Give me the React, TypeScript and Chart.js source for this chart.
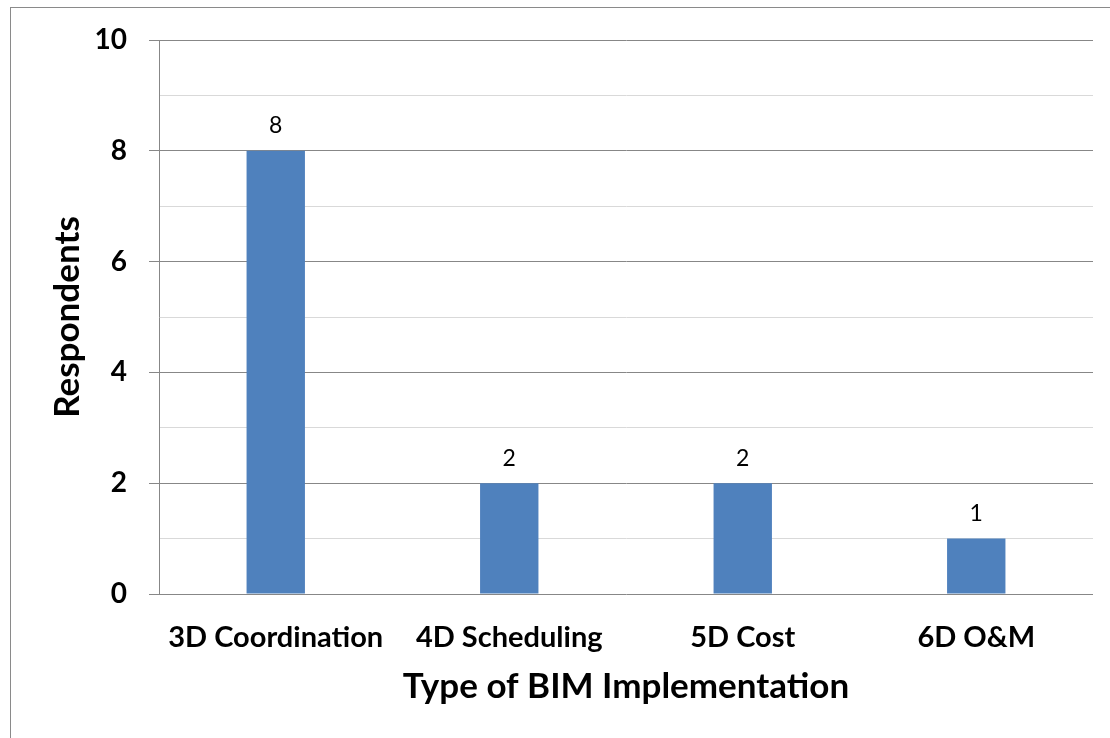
import React, { useEffect, useRef } from "react";
import { Chart, registerables } from "chart.js";

Chart.register(...registerables);

const categories = ["3D Coordination", "4D Scheduling", "5D Cost", "6D O&M"];
const respondents = [8, 2, 2, 1];
const yTickLabels = [0, 2, 4, 6, 8, 10];

const FONT = "Lato, 'Open Sans', sans-serif";

const valueLabels = {
  id: "valueLabels",
  afterDatasetsDraw(chart: any) {
    const ctx = chart.ctx;
    const meta = chart.getDatasetMeta(0);
    ctx.save();
    ctx.font = `normal 23px ${FONT}`;
    ctx.fillStyle = "#000";
    ctx.textAlign = "center";
    ctx.textBaseline = "middle";
    meta.data.forEach((el: any, i: number) => {
      ctx.fillText(String(chart.data.datasets[0].data[i]), el.x, el.y - 25);
    });
    ctx.restore();
  },
};

export default function App() {
  const ref = useRef<HTMLCanvasElement | null>(null);

  useEffect(() => {
    if (!ref.current) return;
    const chart = new Chart(ref.current, {
      type: "bar",
      data: {
        labels: categories,
        datasets: [
          {
            label: "Respondents",
            data: respondents,
            backgroundColor: "#4F81BD",
            barPercentage: 0.25,
            categoryPercentage: 1,
          },
        ],
      },
      options: {
        animation: false,
        responsive: false,
        maintainAspectRatio: false,
        layout: { padding: { top: 40, right: 17, bottom: 0, left: 0 } },
        plugins: {
          legend: { display: false },
          tooltip: { enabled: false },
        },
        scales: {
          x: {
            grid: { display: false, drawTicks: false },
            border: { display: false },
            ticks: {
              color: "#000",
              padding: 26,
              font: { family: FONT, size: 29, weight: "bold", lineHeight: 1.2 },
            },
            title: {
              display: true,
              text: "Type of BIM Implementation",
              color: "#000",
              font: { family: FONT, size: 35, weight: "bold", lineHeight: 1.2 },
              padding: { top: 0, bottom: 30 },
            },
            afterFit(scale: any) {
              scale.height = 738 - 594;
            },
          },
          y: {
            min: 0,
            max: 10,
            grid: {
              color: (c: any) => (c.tick && c.tick.value % 2 === 0 ? "#878787" : "#D9D9D9"),
              tickColor: (c: any) => (c.tick && c.tick.value % 2 === 0 ? "#878787" : "rgba(0,0,0,0)"),
              tickLength: 10,
              lineWidth: 1,
            },
            border: { display: true, color: "#878787", width: 1 },
            ticks: {
              stepSize: 1,
              color: "#000",
              padding: 22,
              font: { family: FONT, size: 28, weight: "bold", lineHeight: 1.2 },
              callback: (v: any) => (yTickLabels.includes(Number(v)) ? String(v) : ""),
            },
            title: {
              display: true,
              text: "Respondents",
              color: "#000",
              font: { family: FONT, size: 35, weight: "bold", lineHeight: 1.2 },
              padding: { top: 47, bottom: 0 },
            },
            afterFit(scale: any) {
              scale.width = 159;
            },
          },
        },
      },
      plugins: [valueLabels],
    });
    return () => chart.destroy();
  }, []);

  return (
    <div style={{ position: "fixed", left: 0, top: 0, width: 1110, height: 738, background: "#fff", overflow: "hidden" }}>
      <div
        style={{
          position: "absolute",
          left: 10,
          top: 7,
          width: 1200,
          height: 800,
          border: "1px solid #8a8a8a",
        }}
      />
      <canvas ref={ref} width={1110} height={738} style={{ position: "absolute", left: 0, top: 0 }} />
    </div>
  );
}
